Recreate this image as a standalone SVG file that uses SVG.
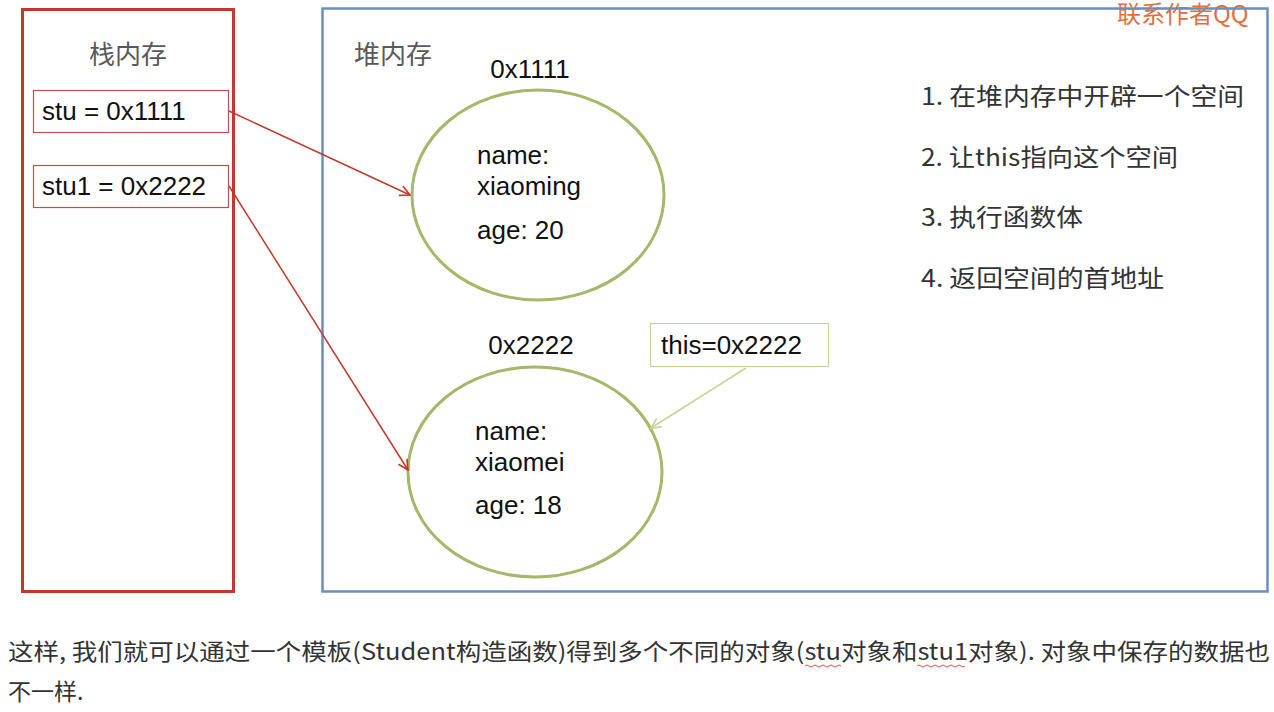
<svg xmlns="http://www.w3.org/2000/svg" width="1274" height="712" viewBox="0 0 1274 712">
<style>
.t{font-family:"Liberation Sans",Arial,sans-serif;font-size:26px;fill:#111}
.cjk{font-family:"Noto Sans CJK SC","Noto Sans",sans-serif;font-size:24px;fill:#333}
.gray{fill:#595959;font-size:26px}
.var{fill:#fff;stroke:#c0504d;stroke-width:1.2}
.obj{fill:#fff;stroke:#a4b86a;stroke-width:3}
.red{stroke:#c0392b;stroke-width:1.5;fill:none}
.grn{stroke:#c4d49a;stroke-width:1.5;fill:none}
.cap{font-family:"Noto Sans CJK SC","Noto Sans",sans-serif;font-size:23px;fill:#333}
.sq{fill:none;stroke:#e05040;stroke-width:1}
</style>
<defs>
<marker id="ar" viewBox="0 0 12 12" refX="11" refY="6" markerWidth="12" markerHeight="12" markerUnits="userSpaceOnUse" orient="auto"><path d="M1,1 L11,6 L1,11" fill="none" stroke="#c0392b" stroke-width="1.6"/></marker>
<marker id="ag" viewBox="0 0 12 12" refX="11" refY="6" markerWidth="12" markerHeight="12" markerUnits="userSpaceOnUse" orient="auto"><path d="M1,1 L11,6 L1,11" fill="none" stroke="#c4d49a" stroke-width="1.6"/></marker>
</defs>
<rect width="1274" height="712" fill="#fff"/>
<text x="1117" y="23" style="font-family:'Noto Sans CJK SC',sans-serif;font-size:24px;fill:#e0703e">联系作者QQ</text>
<g id="stack">
<rect x="22.5" y="9.5" width="211" height="582" fill="none" stroke="#c0392b" stroke-width="3"/>
<text x="128" y="64" text-anchor="middle" class="cjk gray">栈内存</text>
</g>
<g id="heap">
<rect x="322.5" y="8.5" width="945" height="583" fill="none" stroke="#6c8ebf" stroke-width="2.5"/>
<text x="354" y="64" class="cjk gray">堆内存</text>
</g>
<g id="var-stu">
<rect x="33.5" y="90.5" width="195" height="42" class="var"/>
<text x="42" y="120" class="t">stu = 0x1111</text>
</g>
<g id="var-stu1">
<rect x="33.5" y="165.5" width="195" height="42" class="var"/>
<text x="42" y="195" class="t">stu1 = 0x2222</text>
</g>
<g id="obj1">
<text x="530" y="78" text-anchor="middle" class="t">0x1111</text>
<ellipse cx="538" cy="195" rx="126" ry="105" class="obj"/>
<text x="477" y="164" class="t">name:</text>
<text x="477" y="195" class="t">xiaoming</text>
<text x="477" y="239" class="t">age: 20</text>
</g>
<g id="obj2">
<text x="531" y="354" text-anchor="middle" class="t">0x2222</text>
<ellipse cx="535" cy="472" rx="127" ry="105" class="obj"/>
<text x="475" y="440" class="t">name:</text>
<text x="475" y="471" class="t">xiaomei</text>
<text x="475" y="514" class="t">age: 18</text>
</g>
<g id="this-box">
<rect x="650.5" y="323.5" width="178" height="43" fill="#fff" stroke="#c4d49a" stroke-width="1.2"/>
<text x="661" y="354" class="t">this=0x2222</text>
</g>
<g id="steps">
<text x="921" y="105" class="cjk" textLength="323" lengthAdjust="spacingAndGlyphs">1. 在堆内存中开辟一个空间</text>
<text x="921" y="166" class="cjk" textLength="257" lengthAdjust="spacingAndGlyphs">2. 让this指向这个空间</text>
<text x="921" y="226" class="cjk" textLength="162" lengthAdjust="spacingAndGlyphs">3. 执行函数体</text>
<text x="921" y="287" class="cjk" textLength="243" lengthAdjust="spacingAndGlyphs">4. 返回空间的首地址</text>
</g>
<g id="connectors">
<line x1="229" y1="111" x2="410" y2="195" class="red" marker-end="url(#ar)"/>
<line x1="229" y1="186" x2="408" y2="470" class="red" marker-end="url(#ar)"/>
<line x1="746" y1="368" x2="651" y2="428" class="grn" marker-end="url(#ag)"/>
</g>
<g id="caption">
<text x="8" y="660" class="cap" textLength="1262" lengthAdjust="spacingAndGlyphs">这样, 我们就可以通过一个模板(Student构造函数)得到多个不同的对象(stu对象和stu1对象). 对象中保存的数据也</text>
<text x="8" y="700" class="cap">不一样.</text>
<path d="M805,666 q2,-2 4,0 t4,0 t4,0 t4,0 t4,0 t4,0 t4,0 t4,0 t4,0" class="sq"/>
<path d="M917,666 q2,-2 4,0 t4,0 t4,0 t4,0 t4,0 t4,0 t4,0 t4,0 t4,0 t4,0 t4,0 t4,0" class="sq"/>
</g>
</svg>
